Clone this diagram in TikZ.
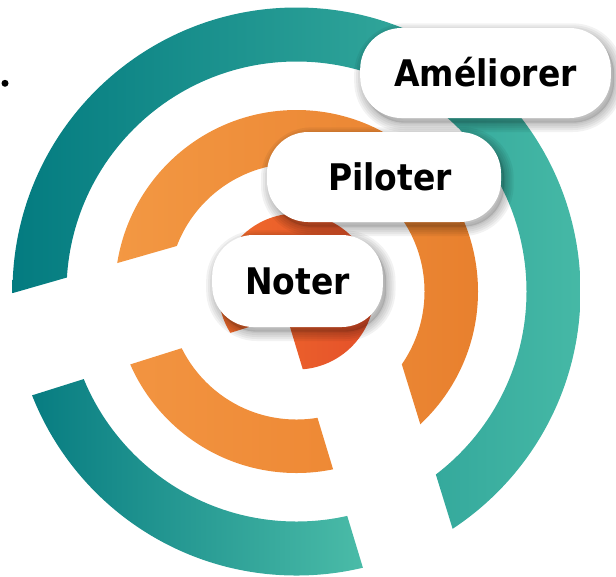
\documentclass[tikz,border=0pt]{standalone}
\usepackage{fontspec}
\newfontfamily\lblfont{DejaVu Sans Condensed}
\definecolor{tealdark}{HTML}{037B80}
\definecolor{teallight}{HTML}{46B9A6}
\definecolor{teallowL}{HTML}{077C81}
\definecolor{teallowR}{HTML}{4BBCA8}
\definecolor{orgL}{HTML}{F39843}
\definecolor{orgR}{HTML}{E8802E}
\definecolor{orglowL}{HTML}{F29441}
\definecolor{orglowR}{HTML}{EE8935}
\definecolor{redL}{HTML}{F06C2C}
\definecolor{redR}{HTML}{E4502A}
\begin{document}
\begin{tikzpicture}[x=0.75pt,y=-0.75pt,
  shadowring/.style={preaction={draw=black, draw opacity=0.05, line width=#1,
      transform canvas={xshift=2.5pt,yshift=-3.5pt}}},
  tag/.style={fill=white, rounded corners=31pt, inner sep=0pt,
      minimum height=67.5pt, text height=20pt, text depth=0pt,
      font=\lblfont\bfseries\fontsize{27.5}{30}\selectfont,
      preaction={fill=black, fill opacity=0.12,
        transform canvas={xshift=2.5pt,yshift=-3.5pt}},
      shadowring=2pt, shadowring=5pt, shadowring=8pt, shadowring=11pt, shadowring=14pt}]
\useasboundingbox (0,0) rectangle (616,576);
\coordinate (c) at (296.5,291.5);

% upper sweeps: everything outside the lower-left wedge
\begin{scope}
  \clip (-50,311.05) -- (349.9,196.3) -- (505.5,700) -- (700,700) -- (700,-50) -- (-50,-50) -- cycle;
  \begin{scope}[even odd rule]
    \clip (c) circle (284) (c) circle (230);
    \shade[left color=tealdark, right color=teallight] (10,0) rectangle (584,576);
  \end{scope}
  \begin{scope}[even odd rule]
    \clip (c) circle (181.5) (c) circle (128);
    \shade[left color=orgL, right color=orgR] (114,0) rectangle (480,576);
  \end{scope}
\end{scope}

% lower-left sweeps
\begin{scope}
  \clip (286.4,315.2) -- (-50,421.2) -- (-50,700) -- (403,700) -- cycle;
  \begin{scope}[even odd rule]
    \clip (c) circle (284) (c) circle (230);
    \shade[left color=teallowL, right color=teallowR] (30,0) rectangle (366,576);
  \end{scope}
  \begin{scope}[even odd rule]
    \clip (c) circle (181.5) (c) circle (128);
    \shade[left color=orglowL, right color=orglowR] (128,0) rectangle (337,576);
  \end{scope}
\end{scope}

% central disc with its lower-left wedge removed
\begin{scope}
  \clip (286.4,315.2) -- (-50,421.2) -- (-50,-50) -- (700,-50) -- (700,700) -- (403,700) -- cycle;
  \clip (c) circle (78);
  \shade[left color=redL, right color=redR] (218,213) rectangle (375,370);
\end{scope}

\fill (5,83.3) circle (3.5);

\node[tag, minimum width=188pt] (ameliorer) at (485.5,73) {Améliorer};
\node[tag, minimum width=175.5pt] (piloter) at (384,177) {\hspace*{9pt}Piloter};
\node[tag, minimum width=128pt, minimum height=69pt] (noter) at (297.5,281) {Noter};
\end{tikzpicture}
\end{document}
